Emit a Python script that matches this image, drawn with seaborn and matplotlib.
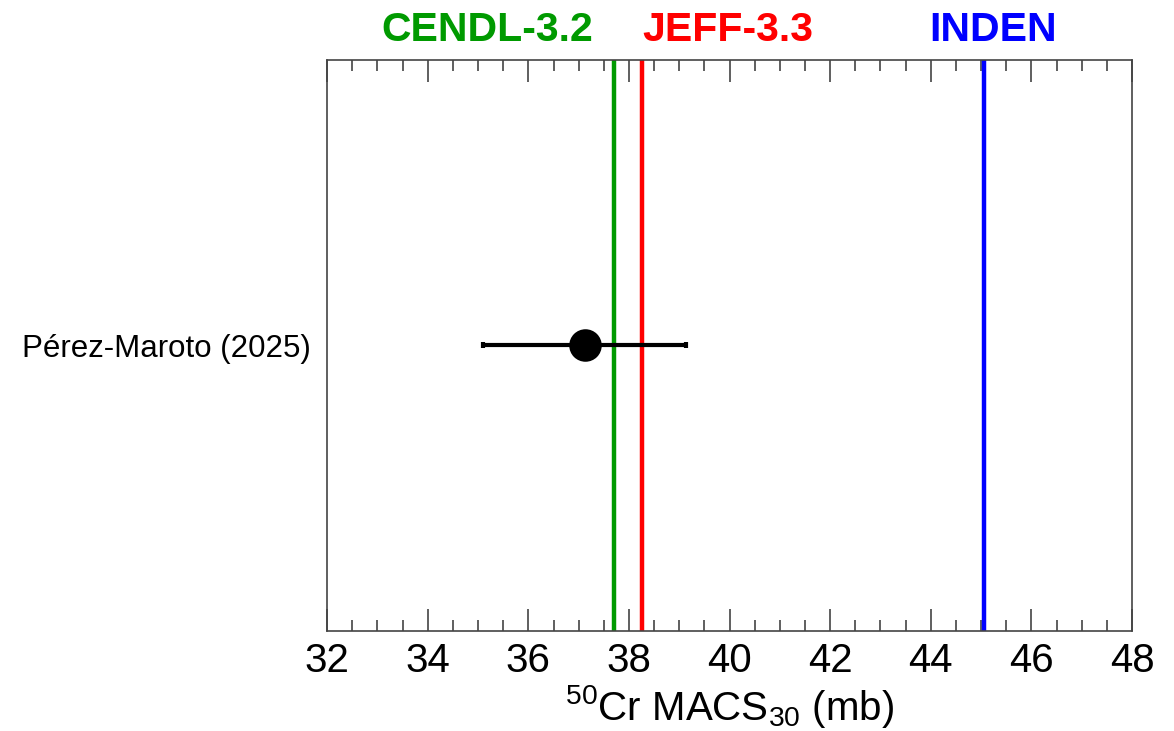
import matplotlib
matplotlib.use("Agg")
import matplotlib.pyplot as plt
import seaborn as sns
import pandas as pd
from matplotlib.ticker import MultipleLocator

sns.set_theme(style="white")
plt.rcParams['font.family'] = ['Liberation Sans', 'DejaVu Sans']
plt.rcParams['mathtext.fontset'] = 'custom'
plt.rcParams['mathtext.rm'] = 'Liberation Sans'
plt.rcParams['text.color'] = 'black'
plt.rcParams['xtick.color'] = 'black'
plt.rcParams['ytick.color'] = 'black'
plt.rcParams['axes.labelcolor'] = 'black'

# Data
measurements = ["Pérez-Maroto (2025)"]
macs_values = [37.12]
macs_errors = [2.02]
library_names = ["CENDL-3.2", "JEFF-3.3", "INDEN"]
library_values = [37.71, 38.26, 45.06]
library_colors = ["#009a00", "#ff0000", "#0000ff"]
label_x = [37.28, 38.26, 45.23]
label_ha = ["right", "left", "center"]
xticks = [32, 34, 36, 38, 40, 42, 44, 46, 48]

df = pd.DataFrame({"label": measurements, "macs": macs_values, "err": macs_errors, "y": [0.0]})

fig = plt.figure(figsize=(11.74, 7.31), dpi=100)
ax = fig.add_axes([0.2787, 0.137, 0.6855, 0.781])

for v, c in zip(library_values, library_colors):
    ax.axvline(v, color=c, lw=3.2, zorder=1)

ax.errorbar(df["macs"], df["y"], xerr=df["err"], fmt="none", ecolor="black",
            elinewidth=3, capsize=2, capthick=3, zorder=3)
sns.scatterplot(data=df, x="macs", y="y", ax=ax, color="black", s=470,
                edgecolor="black", zorder=4, legend=False)

ax.set_xlim(32, 48)
ax.set_ylim(-1, 1)
ax.set_xticks(xticks)
ax.set_xticklabels([str(t) for t in xticks], fontsize=29)
ax.xaxis.set_minor_locator(MultipleLocator(0.5))
ax.tick_params(axis="x", which="major", direction="in", length=16, width=1.2,
               color="#444444", labelcolor="black", top=True, bottom=True, pad=8)
ax.tick_params(axis="x", which="minor", direction="in", length=8, width=1.2,
               color="#444444", top=True, bottom=True)
ax.set_yticks([0])
ax.set_yticklabels(measurements, fontsize=22.5)
ax.tick_params(axis="y", which="both", length=0, pad=12, labelcolor="black")
for s in ax.spines.values():
    s.set_color("#444444")
    s.set_linewidth(1.2)

ax.set_xlabel(r"$^{50}$Cr MACS$_{30}$ (mb)", fontsize=29, labelpad=2, color="black")
ax.set_ylabel("")

for name, x, ha, c in zip(library_names, label_x, label_ha, library_colors):
    t = ax.text(x, 1.0, name, transform=ax.get_xaxis_transform(), ha=ha, va="bottom",
                color=c, fontsize=29.5, fontweight="bold")
    t.set_y(1.0 + 11 / (0.781 * 731))

fig.savefig("out.png", dpi=100)
